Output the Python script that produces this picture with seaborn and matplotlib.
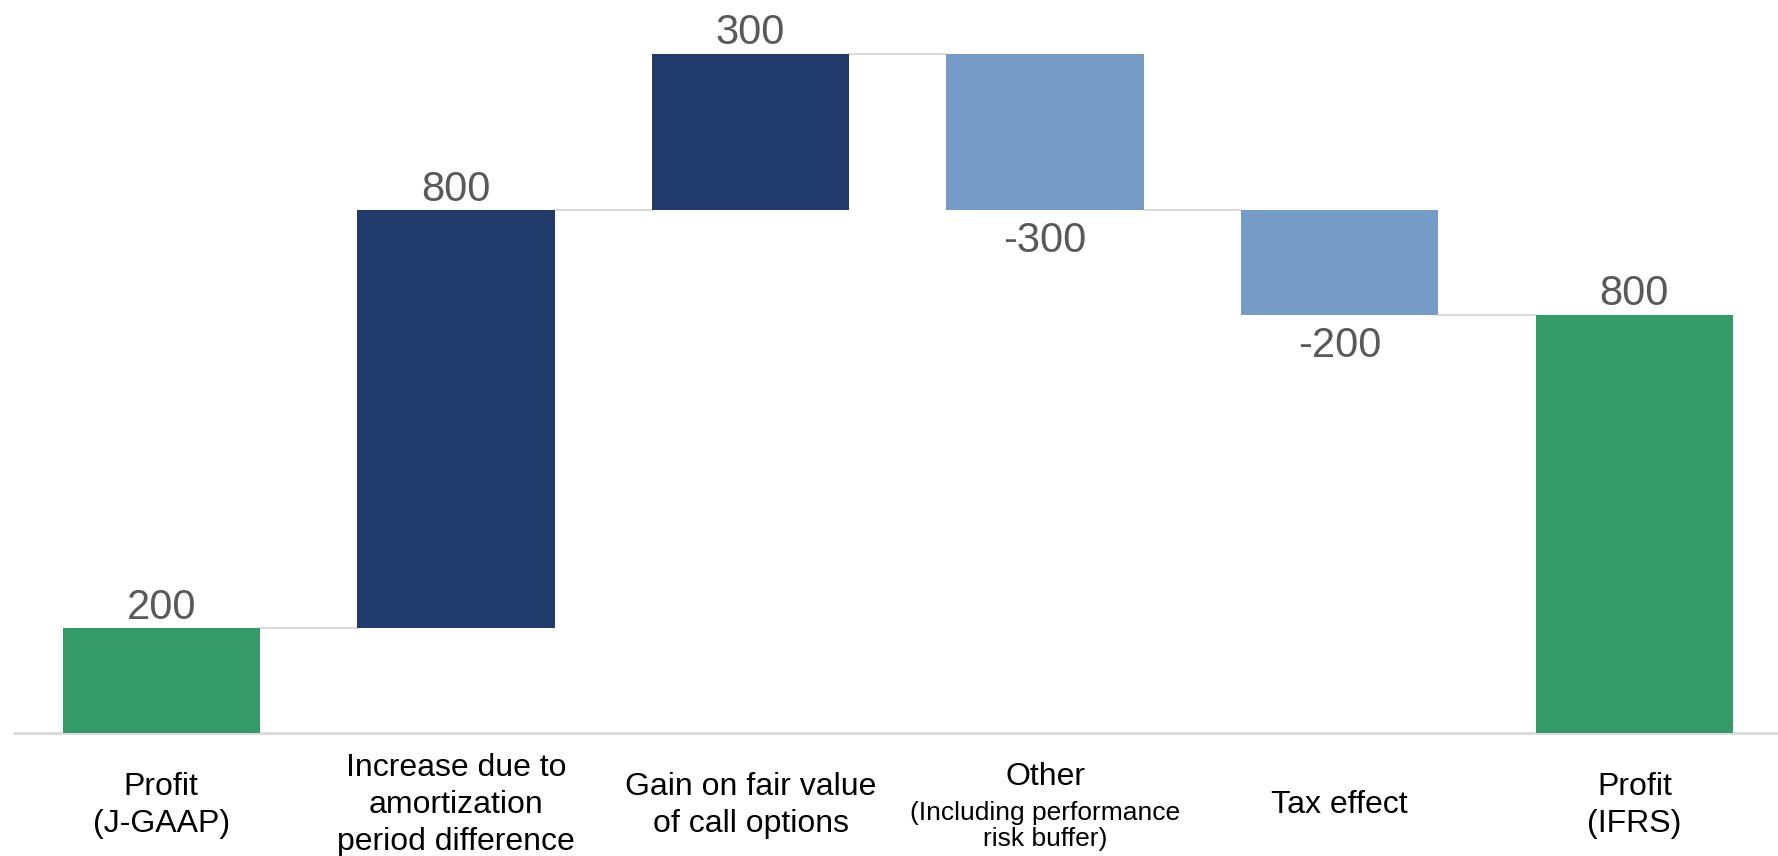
import numpy as np
import matplotlib
matplotlib.use("Agg")
import matplotlib.pyplot as plt
import seaborn as sns

# waterfall data
categories = ["Profit\n(J-GAAP)", "Increase due to\namortization\nperiod difference",
              "Gain on fair value\nof call options", "Other", "Tax effect", "Profit\n(IFRS)"]
sub_labels = ["", "", "", "(Including performance\nrisk buffer)", "", ""]
start_value = 200
changes = [800, 300, -300, -200]
kinds = ["total", "up", "up", "down", "down", "total"]

colors = {"total": "#349a68", "up": "#203a6b", "down": "#759bc7"}

sns.set_theme(style="white")
plt.rcParams['font.family'] = ['Liberation Sans', 'DejaVu Sans']

# running totals -> bottoms / heights
running = np.cumsum([start_value] + changes)
end_value = running[-1]
heights = [start_value] + changes + [end_value]
bottoms = [0] + list(running[:-1]) + [0]
tops = [b + h for b, h in zip(bottoms, heights)]

fig = plt.figure(figsize=(17.78, 8.56), dpi=100)
ax = fig.add_axes([14 / 1778, 0.1437, 0.9942, 0.8546])

bar_w = 0.67
sns.barplot(x=list(range(len(categories))), y=heights, bottom=bottoms,
            color=colors["up"], width=bar_w, ax=ax, zorder=3)
for patch, k in zip(ax.patches, kinds):
    patch.set_facecolor(colors[k])
    patch.set_edgecolor("none")

# connector lines between bars
levels = [tops[0]] + list(running[1:])
for i, lvl in enumerate(levels):
    ax.plot([i + bar_w / 2, i + 1 - bar_w / 2], [lvl, lvl], color="#d9d9d9", lw=1.5, zorder=1)

ax.axhline(0, color="#d9d9d9", lw=2, zorder=2, clip_on=False)

# value labels
for i, (h, t, k) in enumerate(zip(heights, tops, kinds)):
    if k == "down":
        ax.annotate(f"{h}", xy=(i, t), xytext=(0, -22), textcoords="offset points",
                    ha="center", va="center", fontsize=30, color="#595959")
    else:
        ax.annotate(f"{h}", xy=(i, t), xytext=(0, 15), textcoords="offset points",
                    ha="center", va="center", fontsize=30, color="#595959")

# category labels
for i, (lab, sub) in enumerate(zip(categories, sub_labels)):
    if sub:
        ax.annotate(lab, xy=(i, 0), xytext=(0, -32), textcoords="offset points",
                    ha="center", va="center", fontsize=23, color="black", annotation_clip=False)
        ax.annotate(sub, xy=(i, 0), xytext=(0, -67), textcoords="offset points",
                    ha="center", va="center", fontsize=19, color="black",
                    linespacing=1.1, annotation_clip=False)
    else:
        ax.annotate(lab, xy=(i, 0), xytext=(0, -52), textcoords="offset points",
                    ha="center", va="center", fontsize=23, color="black",
                    linespacing=1.31, annotation_clip=False)

ax.set_xlim(-0.5, len(categories) - 0.5)
ax.set_ylim(0, 1400)
ax.set_xticks([])
ax.set_yticks([])
ax.set_xlabel("")
ax.set_ylabel("")
sns.despine(ax=ax, left=True, bottom=True)

fig.savefig("out.png", dpi=100)
